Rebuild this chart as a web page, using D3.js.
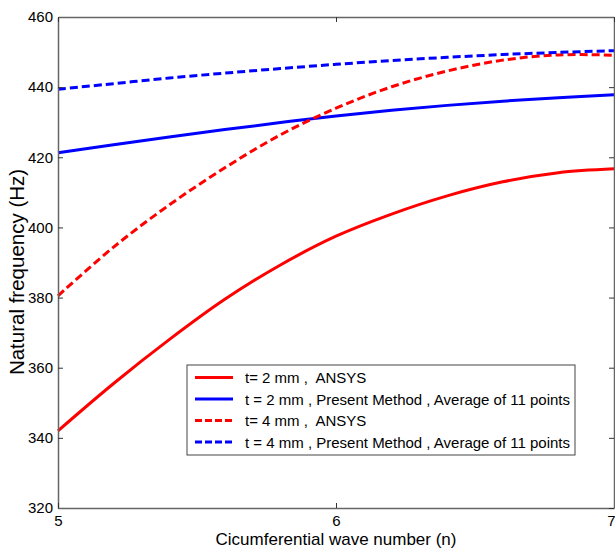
<!DOCTYPE html>
<html>
<head>
<meta charset="utf-8">
<script src="https://cdn.jsdelivr.net/npm/d3@7"></script>
<style>
  body { margin: 0; background: #fff; }
  text { font-family: "Liberation Sans", Arial, sans-serif; }
</style>
</head>
<body>
<script>
// wave numbers (x) and frequencies
var waveNumbers = [5.0, 5.2, 5.4, 5.6, 5.8, 6.0, 6.2, 6.4, 6.6, 6.8, 7.0];
var t2Ansys   = [342.0, 355.5, 368.0, 379.5, 389.3, 397.5, 403.8, 409.0, 413.0, 415.6, 416.7];
var t2Present = [421.3, 423.6, 425.8, 427.9, 429.9, 431.8, 433.4, 434.8, 436.0, 437.0, 437.8];
var t4Ansys   = [380.5, 394.4, 406.4, 417.0, 426.4, 434.0, 440.1, 444.6, 447.7, 449.2, 449.1];
var t4Present = [439.4, 441.0, 442.6, 444.0, 445.3, 446.5, 447.6, 448.5, 449.3, 449.9, 450.4];

var xTicks = [5, 6, 7];
var yTicks = [320, 340, 360, 380, 400, 420, 440, 460];

var seriesNames = [
  't= 2 mm ,  ANSYS',
  't = 2 mm , Present Method , Average of 11 points',
  't= 4 mm ,  ANSYS',
  't = 4 mm , Present Method , Average of 11 points'
];
var seriesValues = [t2Ansys, t2Present, t4Ansys, t4Present];
var seriesColors = ['#ff0000', '#0000ff', '#ff0000', '#0000ff'];
var seriesDashed = [false, false, true, true];

var svgWidth = 615, svgHeight = 552;
var margin = { top: 17, right: 1, bottom: 44, left: 58 };
var chartWidth = svgWidth - margin.left - margin.right;
var chartHeight = svgHeight - margin.top - margin.bottom;

var svg = d3.select('body').append('svg')
  .attr('width', svgWidth)
  .attr('height', svgHeight);

var chart = svg.append('g')
  .attr('transform', 'translate(' + margin.left + ',' + margin.top + ')');

var x = d3.scaleLinear().domain([5, 7]).range([0, chartWidth]);
var y = d3.scaleLinear().domain([320, 460]).range([chartHeight, 0]);

// curves
var line = d3.line()
  .x(function(d) { return x(d[0]); })
  .y(function(d) { return y(d[1]); })
  .curve(d3.curveCatmullRom);

seriesValues.forEach(function(vals, i) {
  var pts = waveNumbers.map(function(w, j) { return [w, vals[j]]; });
  chart.append('path')
    .datum(pts)
    .attr('d', line)
    .attr('fill', 'none')
    .attr('stroke', seriesColors[i])
    .attr('stroke-width', 3)
    .attr('stroke-dasharray', seriesDashed[i] ? '8,4' : null);
});

// axes, ticks pointing inward like matlab
var axisColor = '#666';
var leftAxis = d3.axisLeft(y).tickValues(yTicks).tickSizeInner(-5).tickSizeOuter(0).tickPadding(5);
var bottomAxis = d3.axisBottom(x).tickValues(xTicks).tickFormat(d3.format('d')).tickSizeInner(-5).tickSizeOuter(0).tickPadding(7);
var rightAxis = d3.axisRight(y).tickValues(yTicks).tickSizeInner(-5).tickSizeOuter(0).tickFormat('');
var topAxis = d3.axisTop(x).tickValues(xTicks).tickSizeInner(-5).tickSizeOuter(0).tickFormat('');

var gl = chart.append('g').call(leftAxis);
var gb = chart.append('g').attr('transform', 'translate(0,' + chartHeight + ')').call(bottomAxis);
var gr = chart.append('g').attr('transform', 'translate(' + chartWidth + ',0)').call(rightAxis);
var gt = chart.append('g').call(topAxis);

[gl, gb, gr, gt].forEach(function(g) {
  g.select('.domain').attr('stroke', axisColor).attr('stroke-width', 1.5);
  g.selectAll('.tick line').attr('stroke', '#333');
  g.selectAll('.tick text').attr('fill', '#000').style('font-size', '15px');
});

// last x label sits on the window edge, keep it inside
gb.selectAll('.tick text').filter(function(d) { return d === 7; })
  .attr('text-anchor', 'end')
  .attr('x', 1);

// axis labels
chart.append('text')
  .attr('x', chartWidth / 2)
  .attr('y', chartHeight + 37)
  .attr('text-anchor', 'middle')
  .style('font-size', '17px')
  .text('Cicumferential wave number (n)');

chart.append('text')
  .attr('transform', 'rotate(-90)')
  .attr('x', -(272 - margin.top))
  .attr('y', -34)
  .attr('text-anchor', 'middle')
  .style('font-size', '20.5px')
  .text('Natural frequency (Hz)');

// legend
var legend = svg.append('g').attr('transform', 'translate(187,365)');
legend.append('rect')
  .attr('width', 388)
  .attr('height', 90)
  .attr('fill', '#fff')
  .attr('stroke', '#444')
  .attr('stroke-width', 1);

seriesNames.forEach(function(name, i) {
  var row = legend.append('g').attr('transform', 'translate(0,' + (12.5 + i * 21.5) + ')');
  row.append('line')
    .attr('x1', 8).attr('x2', 46)
    .attr('y1', 0).attr('y2', 0)
    .attr('stroke', seriesColors[i])
    .attr('stroke-width', 3)
    .attr('stroke-dasharray', seriesDashed[i] ? '7,3' : null);
  row.append('text')
    .attr('x', 58)
    .attr('y', 5.5)
    .style('font-size', '15px')
    .style('white-space', 'pre')
    .text(name);
});
</script>
</body>
</html>
